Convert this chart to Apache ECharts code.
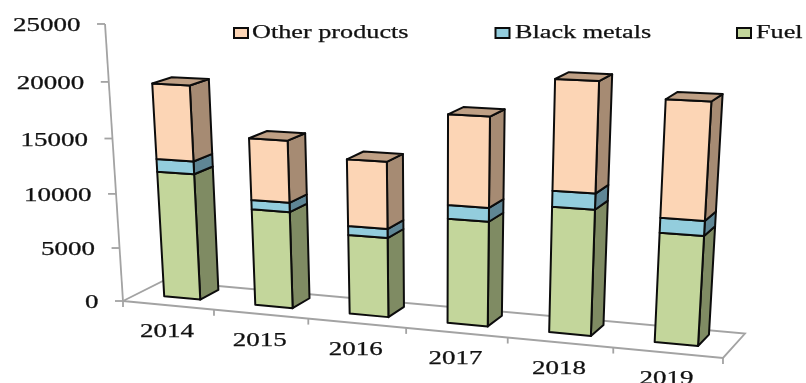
<!DOCTYPE html>
<html>
<head>
<meta charset="utf-8">
<style>
html,body{margin:0;padding:0;background:#fff;overflow:hidden}
#c{width:806px;height:383px;filter:blur(0.4px)}
</style>
<script src="https://cdn.jsdelivr.net/npm/echarts@6/dist/echarts.min.js"></script>
</head>
<body>
<div id="c"></div>
<script>
const categories = ['2014','2015','2016','2017','2018','2019'];
const fuel   = [11650, 8840, 7180, 9300, 10990, 9440];
const black  = [1160, 840, 810, 1200, 1360, 1260];
const other  = [6750, 5520, 5900, 7760, 9270, 9720];
const yTicks = [0, 5000, 10000, 15000, 20000, 25000];
const seriesNames = ['Fuel', 'Black metals', 'Other products'];

const palette = [
  {front:'#C3D69B', side:'#7F8B63', top:'#98A778'},
  {front:'#93CDDD', side:'#5F8695', top:'#77A5B2'},
  {front:'#FCD5B5', side:'#A68B73', top:'#BFA085'}
];
const LINE = '#0c0c0c', AXIS = '#A3A3A3', TEXT = '#111111';
const FONT = '19px "Liberation Serif"';
const textStyle = (text, align) => ({text, font:FONT, fill:TEXT, stroke:TEXT, lineWidth:0.25, align, verticalAlign:'middle'});

// Perspective camera: u along categories, d into the depth, h up the value axis (all 0..1)
const cam = {ox:123, oy:301, ux:536.2, uy:50.9, dx:41.4, dy:-20.7, hx:-17.0, hy:-262, a:-0.1063, b:0.0349, c:-0.0542};
function project(u, d, h) {
  const w = 1 + cam.a*u + cam.b*d + cam.c*h;
  return [cam.ox + (cam.ux*u + cam.dx*d + cam.hx*h)/w,
          cam.oy + (cam.uy*u + cam.dy*d + cam.hy*h)/w];
}
// Flat grid position -> normalised chart coordinates, via the library's scales
function norm(params, api, cat, frac, val) {
  const cs = params.coordSys, p = api.coord([cat, val]), band = api.size([1,0])[0];
  return [(p[0] + frac*band - cs.x)/cs.width, 1 - (p[1] - cs.y)/cs.height];
}
const BAR = 0.2, D0 = 0.355, D1 = 0.83;

function barItem(si) {
  return function(params, api) {
    const cat = api.value(0), v0 = api.value(1), v1 = api.value(2), col = palette[si];
    const a = norm(params, api, cat, -BAR, v0), b = norm(params, api, cat, BAR, v1);
    const P = (u,d,h) => project(u,d,h);
    const st = f => ({fill:f, stroke:LINE, lineWidth:2, lineJoin:'round'});
    const children = [
      {type:'polygon', shape:{points:[P(b[0],D0,a[1]),P(b[0],D1,a[1]),P(b[0],D1,b[1]),P(b[0],D0,b[1])]}, style:st(col.side)},
      {type:'polygon', shape:{points:[P(a[0],D0,a[1]),P(b[0],D0,a[1]),P(b[0],D0,b[1]),P(a[0],D0,b[1])]}, style:st(col.front)}
    ];
    if (si === 2) children.push({type:'polygon', shape:{points:[P(a[0],D0,b[1]),P(b[0],D0,b[1]),P(b[0],D1,b[1]),P(a[0],D1,b[1])]}, style:st(col.top)});
    return {type:'group', children};
  };
}
const axLine = pts => ({type:'polyline', shape:{points:pts}, style:{fill:'none', stroke:AXIS, lineWidth:1.8}});

function floorItem(params, api) {
  const u0 = norm(params, api, 0, -0.5, 0)[0], u1 = norm(params, api, categories.length-1, 0.5, 0)[0];
  const top = norm(params, api, 0, -0.5, yTicks[yTicks.length-1])[1];
  return {type:'group', children:[
    axLine([project(u0,0,0), project(u0,1,0), project(u1,1,0), project(u1,0,0), project(u0,0,0)]),
    axLine([project(u0,0,0), project(u0,0,top)])
  ]};
}
function yTickItem(params, api) {
  const v = api.value(0), n = norm(params, api, 0, -0.5, v), p = project(n[0],0,n[1]);
  return {type:'group', children:[
    axLine([[p[0]-8,p[1]],p]),
    {type:'text', x:p[0]-24.5, y:p[1]+2, scaleX:1.42, style:textStyle(String(v),'right')}
  ]};
}
function xTickItem(params, api) {
  const i = api.value(0), children = [];
  const e = project(norm(params, api, i, 0.5, 0)[0],0,0);
  children.push(axLine([e,[e[0],e[1]+6]]));
  if (i === 0) { const s = project(norm(params, api, 0, -0.5, 0)[0],0,0); children.push(axLine([s,[s[0],s[1]+6]])); }
  const c = project(norm(params, api, i, 0, 0)[0],0,0);
  children.push({type:'text', x:c[0]-1, y:c[1]+26.5, scaleX:1.42, style:textStyle(categories[i],'center')});
  return {type:'group', children};
}
const stacks = [fuel, black, other];
const barSeries = stacks.map((vals, si) => ({
  type:'custom', name:seriesNames[si], silent:true, z:5,
  itemStyle:{color:palette[si].front},
  encode:{x:0, y:[1,2]},
  data:categories.map((c,i) => {
    let base = 0; for (let k=0;k<si;k++) base += stacks[k][i];
    return [i, base, base + vals[i]];
  }),
  renderItem:barItem(si)
}));
const legendAt = (name, left) => ({
  data:[name], left, top:27, padding:0, itemWidth:14, itemHeight:10, icon:'rect',
  selectedMode:false, formatter:() => '',
  itemStyle:{borderColor:LINE, borderWidth:2}
});
const legendText = (text, x) => ({type:'text', x, y:33.5, scaleX:1.38, silent:true, style:textStyle(text,'left')});

const chart = echarts.init(document.getElementById('c'), null, {renderer:'canvas'});
chart.setOption({
  animation:false,
  backgroundColor:'#ffffff',
  grid:{left:0, right:0, top:0, bottom:0},
  xAxis:{type:'category', data:categories, show:false},
  yAxis:{type:'value', min:0, max:25000, interval:5000, show:false},
  legend:[legendAt('Other products',233), legendAt('Black metals',494.5), legendAt('Fuel',736)],
  graphic:[legendText('Other products',252), legendText('Black metals',515), legendText('Fuel',756)],
  series:[
    {type:'custom', silent:true, z:1, data:[[0]], encode:{x:0}, renderItem:floorItem},
    {type:'custom', silent:true, z:1, data:yTicks.map(v=>[v]), encode:{y:0}, renderItem:yTickItem},
    {type:'custom', silent:true, z:1, data:categories.map((c,i)=>[i]), encode:{x:0}, renderItem:xTickItem}
  ].concat(barSeries)
});
</script>
</body>
</html>
